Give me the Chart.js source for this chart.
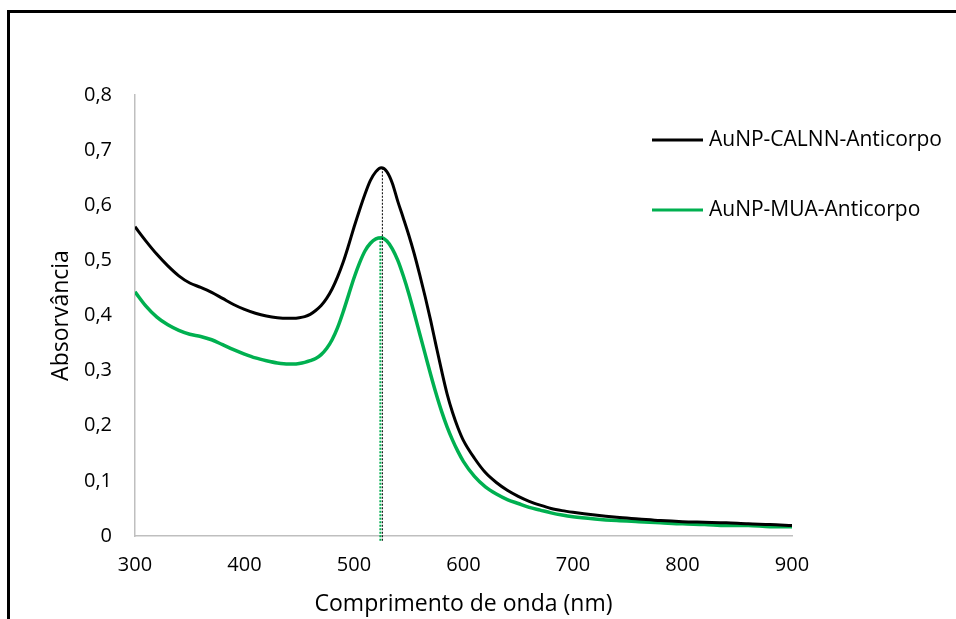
<!DOCTYPE html>
<html>
<head>
<meta charset="utf-8">
<script src="https://cdn.jsdelivr.net/npm/chart.js@4/dist/chart.umd.min.js"></script>
<style>
  html, body { margin: 0; padding: 0; background: #fff; }
  #wrap { position: relative; width: 956px; height: 619px; }
  #frame { position: absolute; left: 7px; top: 10px; right: 0; bottom: 0;
           border-top: 3px solid #000; border-left: 3px solid #000; pointer-events: none; }
  canvas { position: absolute; left: 0; top: 0; }
</style>
</head>
<body>
<div id="wrap">
  <canvas id="chart" width="956" height="619"></canvas>
  <div id="frame"></div>
</div>
<script>
// wavelength (nm)
const wavelengths = [
  300, 310, 320, 330, 340, 350, 360, 370, 380, 390,
  400, 410, 420, 430, 440, 445, 450, 455, 460, 465,
  470, 475, 480, 485, 490, 495, 500, 505, 510, 515,
  520, 525, 530, 535, 540, 545, 550, 555, 560, 565,
  570, 575, 580, 585, 590, 595, 600, 610, 620, 630,
  640, 650, 660, 670, 680, 690, 700, 720, 740, 760,
  780, 800, 820, 840, 860, 880, 900
];

// absorbance, AuNP-CALNN-Anticorpo
const calnn = [
  0.561, 0.535, 0.511, 0.490, 0.472, 0.459, 0.451, 0.442, 0.431, 0.420,
  0.411, 0.404, 0.399, 0.396, 0.395, 0.395, 0.396, 0.398, 0.402, 0.409,
  0.418, 0.431, 0.448, 0.470, 0.496, 0.527, 0.560, 0.591, 0.620, 0.645,
  0.661, 0.668, 0.661, 0.640, 0.607, 0.577, 0.546, 0.512, 0.474, 0.434,
  0.391, 0.345, 0.300, 0.258, 0.224, 0.196, 0.173, 0.141, 0.115, 0.097,
  0.083, 0.072, 0.063, 0.056, 0.050, 0.046, 0.043, 0.038, 0.034, 0.031,
  0.028, 0.026, 0.025, 0.024, 0.022, 0.021, 0.019
];

// absorbance, AuNP-MUA-Anticorpo
const mua = [
  0.443, 0.417, 0.397, 0.383, 0.373, 0.366, 0.362, 0.356, 0.347, 0.338,
  0.330, 0.323, 0.318, 0.314, 0.312, 0.312, 0.313, 0.315, 0.318, 0.322,
  0.329, 0.340, 0.356, 0.378, 0.406, 0.437, 0.468, 0.495, 0.517, 0.531,
  0.539, 0.541, 0.535, 0.521, 0.500, 0.472, 0.440, 0.404, 0.367, 0.330,
  0.293, 0.258, 0.226, 0.198, 0.174, 0.153, 0.135, 0.108, 0.089, 0.076,
  0.066, 0.059, 0.052, 0.047, 0.042, 0.038, 0.035, 0.031, 0.028, 0.026,
  0.024, 0.022, 0.021, 0.019, 0.019, 0.017, 0.017
];

const seriesNames = ['AuNP-CALNN-Anticorpo', 'AuNP-MUA-Anticorpo'];
const seriesColors = ['#000000', '#00b050'];
const xTicks = [300, 400, 500, 600, 700, 800, 900];
const yTicks = [0, 0.1, 0.2, 0.3, 0.4, 0.5, 0.6, 0.7, 0.8];

const FONT = '"Open Sans", "DejaVu Sans", sans-serif';

const toPoints = (ys) => wavelengths.map((w, i) => ({ x: w, y: ys[i] }));

// dotted drop line from each peak down to the x axis
const peakLines = {
  id: 'peakLines',
  afterDatasetsDraw(chart) {
    const { ctx, scales: { x, y } } = chart;
    const widths = [1, 2];
    for (let i = chart.data.datasets.length - 1; i >= 0; i--) {
      const ds = chart.data.datasets[i];
      let best = ds.data[0];
      ds.data.forEach(p => { if (p.y > best.y) best = p; });
      const px = x.getPixelForValue(best.x) + (i === 0 ? 1 : -1);
      ctx.save();
      ctx.strokeStyle = ds.borderColor;
      ctx.lineWidth = widths[i];
      ctx.setLineDash([2, 1.5]);
      ctx.beginPath();
      ctx.moveTo(px, y.getPixelForValue(best.y));
      ctx.lineTo(px, y.bottom + 5);
      ctx.stroke();
      ctx.restore();
    }
  }
};

// legend at the right of the plot
const sideLegend = {
  id: 'sideLegend',
  afterDraw(chart) {
    const { ctx } = chart;
    const left = 652, rows = [140, 210];
    chart.data.datasets.forEach((ds, i) => {
      ctx.save();
      ctx.strokeStyle = ds.borderColor;
      ctx.lineWidth = 3;
      ctx.beginPath();
      ctx.moveTo(left, rows[i]);
      ctx.lineTo(left + 51, rows[i]);
      ctx.stroke();
      ctx.fillStyle = '#000';
      ctx.font = '21px ' + FONT;
      ctx.textBaseline = 'middle';
      ctx.fillText(ds.label, left + 57, rows[i]);
      ctx.restore();
    });
  }
};

new Chart(document.getElementById('chart'), {
  type: 'line',
  data: {
    datasets: [
      { label: seriesNames[0], data: toPoints(calnn), borderColor: seriesColors[0], borderWidth: 3 },
      { label: seriesNames[1], data: toPoints(mua), borderColor: seriesColors[1], borderWidth: 3.5 }
    ]
  },
  options: {
    responsive: false,
    animation: false,
    events: [],
    elements: { point: { radius: 0 }, line: { cubicInterpolationMode: 'monotone' } },
    layout: { padding: { top: 95, right: 164, left: 0, bottom: 0 } },
    plugins: { legend: { display: false }, tooltip: { enabled: false } },
    scales: {
      x: {
        type: 'linear',
        min: 300, max: 900,
        afterFit: s => { s.height = 83; },
        afterBuildTicks: s => { s.ticks = xTicks.map(v => ({ value: v })); },
        grid: { display: false, drawTicks: false },
        border: { display: true, color: '#bfbfbf', width: 1.5 },
        ticks: { color: '#000', padding: 17, font: { family: FONT, size: 20 } },
        title: { display: true, text: 'Comprimento de onda (nm)', color: '#000',
                 padding: { top: 1, bottom: 1 }, font: { family: FONT, size: 23 } }
      },
      y: {
        min: 0, max: 0.8,
        afterFit: s => { s.width = 135; },
        afterBuildTicks: s => { s.ticks = yTicks.map(v => ({ value: v })); },
        grid: { display: false, drawTicks: false },
        border: { display: true, color: '#bfbfbf', width: 1.5 },
        ticks: {
          color: '#000', padding: 23, font: { family: FONT, size: 20 },
          callback: v => v === 0 ? '0' : v.toFixed(1).replace('.', ',')
        },
        title: { display: true, text: 'Absorvância', color: '#000',
                 padding: { top: 48, bottom: 0 }, font: { family: FONT, size: 23 } }
      }
    }
  },
  plugins: [peakLines, sideLegend]
});
</script>
</body>
</html>
